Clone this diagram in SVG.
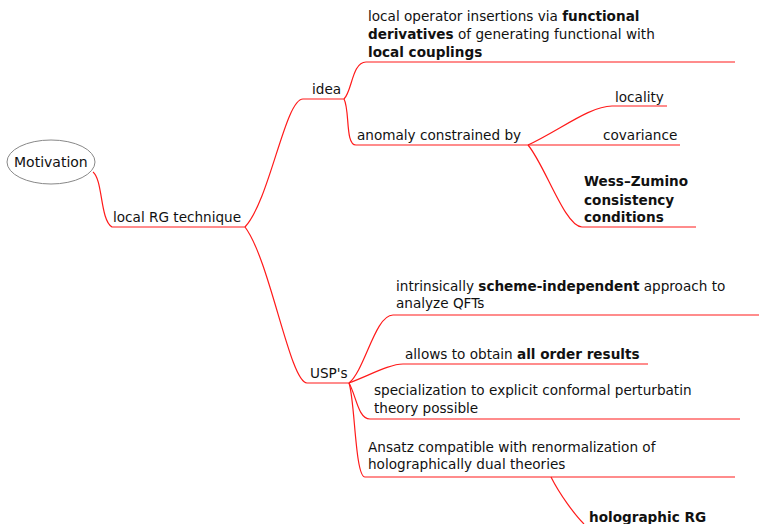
<svg xmlns="http://www.w3.org/2000/svg" width="759" height="524" viewBox="0 0 759 524">
<style>
text{font-family:"DejaVu Sans","Liberation Sans",sans-serif;font-size:13.6px;fill:#111}
.b{font-weight:bold}
#connectors path{fill:none;stroke:#ff1a1a;stroke-width:1.2}
</style>
<rect width="759" height="524" fill="#fff"/>
<g id="connectors">
<path d="M93,172 C103,180 100,220 112,227 L245,227"/>
<path d="M245,227 C270,200 285,99 303,99 L344,99"/>
<path d="M245,227 C270,260 290,383 307,383 L349,383"/>
<path d="M344,99 C352,92 352,62 366,62 L735,62"/>
<path d="M344,99 C350,110 345,145 356,145 L528,145"/>
<path d="M528,145 L680,145"/>
<path d="M528,145 C560,130 590,106 612,106 L667,106"/>
<path d="M528,145 C545,165 565,227 582,227 L696,227"/>
<path d="M349,383 C365,370 375,315 393,315 L759,315"/>
<path d="M349,383 C370,375 390,364 403,364 L648,364"/>
<path d="M349,383 C356,395 358,419 370,419 L740,419"/>
<path d="M349,383 C355,400 355,477 365,477 L735,477"/>
<path d="M551,477 C560,495 575,515 584,524"/>
</g>
<g id="motivation"><ellipse cx="51" cy="162" rx="44" ry="22" fill="#fff" stroke="#888" stroke-width="1"/><text x="14" y="167" style="font-size:14px">Motivation</text></g>
<g id="local-rg"><text x="113" y="222">local RG technique</text></g>
<g id="idea"><text x="312" y="94">idea</text></g>
<g id="local-op"><text x="368" y="21">local operator insertions via <tspan class="b">functional</tspan></text><text x="368" y="39"><tspan class="b">derivatives</tspan> of generating functional with</text><text x="368" y="57" class="b">local couplings</text></g>
<g id="anomaly"><text x="357" y="140">anomaly constrained by</text></g>
<g id="locality"><text x="615" y="102">locality</text></g>
<g id="covariance"><text x="603" y="140">covariance</text></g>
<g id="wz"><text class="b" x="584" y="186">Wess–Zumino</text><text class="b" x="584" y="205">consistency</text><text class="b" x="584" y="222">conditions</text></g>
<g id="usps"><text x="310" y="378">USP's</text></g>
<g id="scheme"><text x="396" y="291">intrinsically <tspan class="b">scheme-independent</tspan> approach to</text><text x="396" y="308">analyze QFTs</text></g>
<g id="allorder"><text x="405" y="359">allows to obtain <tspan class="b">all order results</tspan></text></g>
<g id="conformal"><text x="374" y="395">specialization to explicit conformal perturbatin</text><text x="374" y="413">theory possible</text></g>
<g id="ansatz"><text x="368" y="452">Ansatz compatible with renormalization of</text><text x="368" y="469">holographically dual theories</text></g>
<g id="holo"><text class="b" x="589" y="522">holographic RG</text></g>
</svg>
